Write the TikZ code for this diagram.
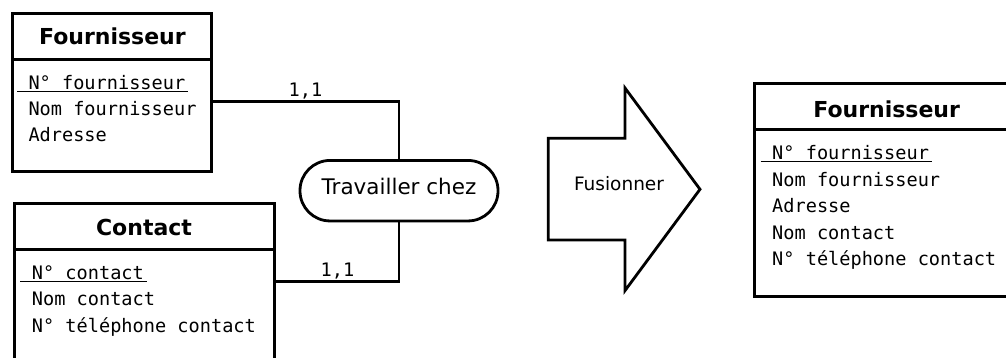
\documentclass[tikz,border=0pt]{standalone}
\usepackage{fontspec}
\setmainfont{DejaVu Sans}
\setmonofont{DejaVu Sans Mono}

\begin{document}
\begin{tikzpicture}[x=1pt,y=-1pt,
 entity/.style={draw,line width=2.8pt,inner sep=0pt,outer sep=0pt},
 title/.style={anchor=base,inner sep=0pt,font=\fontsize{22}{26}\selectfont\bfseries},
 attr/.style={anchor=base west,inner sep=0pt,font=\fontsize{18.6}{22}\selectfont\ttfamily},
 card/.style={anchor=base,inner sep=0pt,font=\fontsize{18.6}{22}\selectfont\ttfamily},
 link/.style={line width=2.8pt}]
 \useasboundingbox (0,0) rectangle (1006,358);
 \clip (0,0) rectangle (1006,358);

 \node [entity,minimum width=199pt,minimum height=158pt] (fourn) at (112,92.6) {}; % 左上の箱
 \node [entity,minimum width=260pt,minimum height=170pt] (contact) at (144.7,288.5) {}; % 左下の箱
 \node [entity,minimum width=266pt,minimum height=212.8pt] (fusion) at (887.7,189.9) {}; % 右の箱
 \foreach \e in {fourn,contact,fusion}
  \draw [entity] ([yshift=-46.2pt]\e.north west) -- ([yshift=-46.2pt]\e.north east); % 見出しの線

 \node [title] (fournT) at (112.4,45) {Fournisseur};
 \node [title] (contactT) at (144,235.7) {Contact};
 \node [title] (fusionT) at (886.7,118) {Fournisseur};

 \node [attr] (fournK) at (28.3,89.3) {N° fournisseur};
 \node [attr] (fournA) at (28.3,116) {Nom fournisseur};
 \node [attr] (fournB) at (28.3,141.7) {Adresse};

 \node [attr] (contactK) at (31.7,279.3) {N° contact};
 \node [attr] (contactA) at (31.7,305) {Nom contact};
 \node [attr] (contactB) at (31.7,332.7) {N° téléphone contact};

 \node [attr] (fusionK) at (772,159.3) {N° fournisseur};
 \node [attr] (fusionA) at (772,186.7) {Nom fournisseur};
 \node [attr] (fusionB) at (772,212.7) {Adresse};
 \node [attr] (fusionC) at (772,239.3) {Nom contact};
 \node [attr] (fusionD) at (772,265) {N° téléphone contact};

 \foreach \k in {fournK,contactK,fusionK}
  \draw [line width=1.8pt] ([xshift=-11.3pt,yshift=-2.2pt]\k.base west) -- ([xshift=3pt,yshift=-2.2pt]\k.base east); % 下線

 \node [draw,line width=2.8pt,rounded corners=30pt,minimum width=198pt,minimum height=60.5pt,
  inner sep=0pt,text depth=8pt,font=\fontsize{21.5}{26}\selectfont] (rel) at (399,190.7) {Travailler chez};

 \draw [link] ([yshift=-9.1pt]fourn.east) -| (rel.north);
 \draw [link] ([yshift=6.8pt]contact.east) -| (rel.south);
 \node [card] (card1) at (305.5,97) {1,1};
 \node [card] (card2) at (337.5,276) {1,1};

 \draw [link] (548.3,138.3) -- (625,138.3) -- (625,88) -- (700,189.3) -- (625,290.6) -- (625,240) -- (548.3,240) -- cycle; % 矢印
 \node [anchor=base,inner sep=0pt,font=\fontsize{18.5}{22}\selectfont] (fus) at (619,191) {Fusionner};
\end{tikzpicture}
\end{document}
